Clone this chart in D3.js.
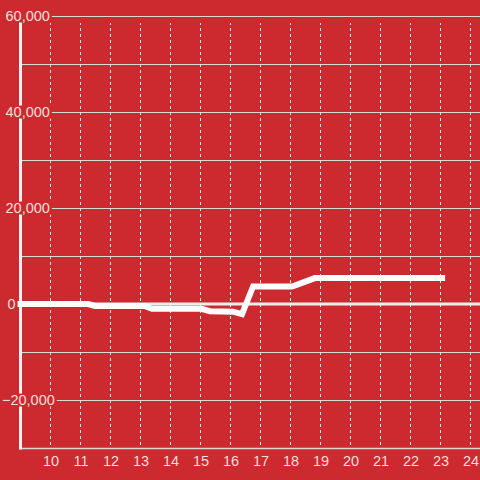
<!DOCTYPE html>
<html><head><meta charset="utf-8">
<script src="https://cdn.jsdelivr.net/npm/d3@7"></script>
<style>html,body{margin:0;padding:0;background:#cd2a2f;}svg{display:block;}</style>
</head><body>
<svg id="c" width="480" height="480"></svg>
<script>
const hours  = [9, 11.27, 11.5, 13.15, 13.4, 15.05, 15.33, 16.1, 16.4, 16.77, 18.07, 18.83, 23.07];
const values = [0, 0, -400, -400, -1000, -1000, -1500, -1600, -2100, 3650, 3650, 5400, 5400];
const xTicks = [10,11,12,13,14,15,16,17,18,19,20,21,22,23,24];
const yGrid  = [60000,50000,40000,30000,20000,10000,-10000,-20000];
const yLabels = [60000,40000,20000,0,-20000];

(function(){
const W=480,H=480, mLeft=20, mTop=16, mBottom=448;
const svg=d3.select("#c");
const bg="#cd2a2f";
svg.append("rect").attr("width",W).attr("height",H).attr("fill",bg);

const x=d3.scaleLinear().domain([9, 9+(W-mLeft)/30]).range([mLeft, W]);
const y=d3.scaleLinear().domain([-30000,60000]).range([mBottom, mTop]);

// horizontal grid
svg.append("g").selectAll("line").data(yGrid).join("line")
  .attr("x1",mLeft).attr("x2",W).attr("y1",d=>y(d)+0.5).attr("y2",d=>y(d)+0.5)
  .attr("stroke","#d9d9d9").attr("stroke-width",1);
// vertical dotted grid
svg.append("g").selectAll("line").data(xTicks).join("line")
  .attr("x1",d=>x(d)+0.5).attr("x2",d=>x(d)+0.5).attr("y1",mBottom-3).attr("y2",mTop+7)
  .attr("stroke","#e6e6e6").attr("stroke-width",1).attr("stroke-dasharray","3,3");
// zero line
svg.append("line").attr("x1",mLeft).attr("x2",W).attr("y1",y(0)).attr("y2",y(0))
  .attr("stroke","#eeeeee").attr("stroke-width",3);
// bottom axis
svg.append("line").attr("x1",mLeft).attr("x2",W).attr("y1",mBottom+0.5).attr("y2",mBottom+0.5)
  .attr("stroke","#d6d6d6").attr("stroke-width",1.5);
// left axis
svg.append("line").attr("x1",mLeft+0.5).attr("x2",mLeft+0.5).attr("y1",mTop).attr("y2",mBottom+1.5)
  .attr("stroke","#f4f4f4").attr("stroke-width",3);

// data line
const pts=hours.map((h,i)=>[h,values[i]]);
svg.append("path").datum(pts)
  .attr("d",d3.line().x(d=>x(d[0])).y(d=>y(d[1])))
  .attr("fill","none").attr("stroke","#ffffff").attr("stroke-width",6)
  .attr("stroke-linecap","square").attr("stroke-linejoin","miter");

// y labels with background
const fmt=d3.format(",");
const lg=svg.append("g");
yLabels.forEach(v=>{
  const g=lg.append("g");
  const t=g.append("text").text(fmt(v))
    .attr("x", v<0?2:(v===0?7.5:5.5)).attr("y",y(v)).attr("dy","0.36em")
    .attr("font-family","Liberation Sans, Arial, sans-serif").attr("font-size",14.5)
    .attr("fill","#f6dede");
  const b=t.node().getBBox();
  g.insert("rect","text").attr("x",0).attr("y",y(v)-6.5).attr("width",b.x+b.width+2).attr("height",13).attr("fill",bg);
});
// x labels
svg.append("g").selectAll("text").data(xTicks).join("text")
  .attr("x",d=>x(d)+1).attr("y",466).attr("text-anchor","middle")
  .attr("font-family","Liberation Sans, Arial, sans-serif").attr("font-size",14.5)
  .attr("fill","#f6dede").text(d=>d);
})();
</script>
</body></html>
